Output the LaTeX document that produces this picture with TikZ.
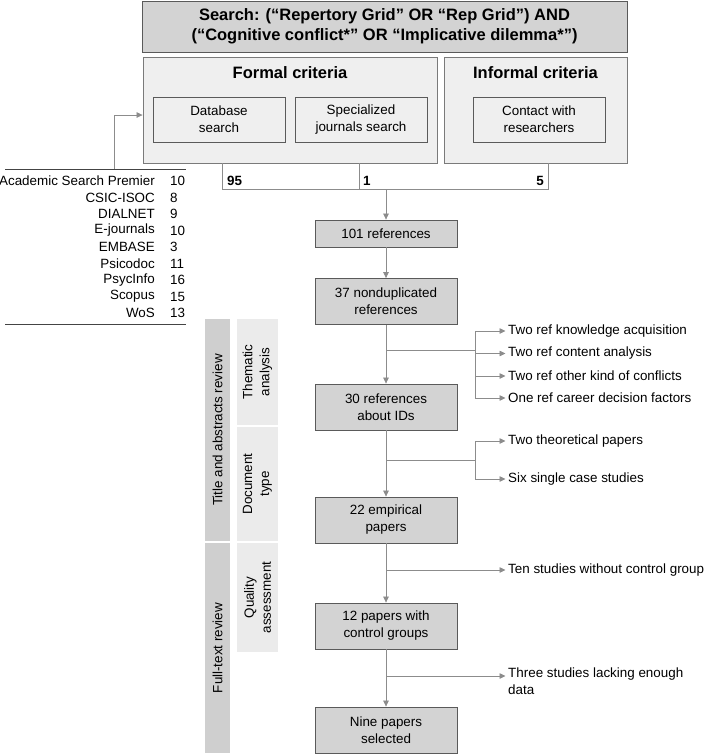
\documentclass[tikz,border=0pt]{standalone}
\usepackage{fontspec}
\setmainfont{Liberation Sans}
\usetikzlibrary{arrows.meta,calc}
\definecolor{boxfill}{HTML}{D3D3D3}
\definecolor{boxline}{HTML}{5A5A5A}
\definecolor{contfill}{HTML}{EFEFEF}
\definecolor{contline}{HTML}{7A7A7A}
\definecolor{bardark}{HTML}{CFCFCF}
\definecolor{barlight}{HTML}{EBEBEB}
\definecolor{conn}{HTML}{8C8C8C}
\definecolor{tabcol}{HTML}{444444}
\begin{document}
\begin{tikzpicture}[x=1pt,y=-1pt,
  txt/.style={font=\fontsize{13.4}{17}\selectfont},
  btxt/.style={font=\fontsize{16.5}{20}\selectfont\bfseries},
  flowbox/.style={draw=boxline,fill=boxfill,line width=0.8pt,minimum width=142pt,minimum height=46pt,align=center,txt,inner sep=0pt},
  contbox/.style={draw=contline,fill=contfill,line width=0.8pt,inner sep=0pt},
  innerbox/.style={draw=boxline,fill=contfill,line width=0.8pt,minimum width=132pt,minimum height=45pt,align=center,txt,inner sep=0pt},
  darkbar/.style={fill=bardark,inner sep=0pt,txt,rotate=90,align=center},
  lightbar/.style={fill=barlight,inner sep=0pt,txt,rotate=90,align=center},
  line/.style={draw=conn,line width=0.75pt},
  arr/.style={line,-{Triangle[length=6pt,width=5.5pt]}},
  extxt/.style={txt,inner sep=2.5pt,align=left},
  tabline/.style={draw=tabcol,line width=0.8pt}
]
\useasboundingbox (0,0) rectangle (704,754);

% top search box
\node[draw=boxline,fill=boxfill,line width=0.8pt,minimum width=485pt,minimum height=51pt,align=center,btxt,inner sep=0pt] (search) at (384.5,26.5)
  {Search: (“Repertory Grid” OR “Rep Grid”) AND\\(“Cognitive conflict*” OR “Implicative dilemma*”)};

% containers
\node[contbox,minimum width=294pt,minimum height=106pt] (formal) at (290,110) {};
\node[contbox,minimum width=183pt,minimum height=106pt] (informal) at (535.5,110) {};
\node[btxt,inner sep=0pt] (formalt) at (290,73) {Formal criteria};
\node[btxt,inner sep=0pt] (informalt) at (535.5,73) {Informal criteria};
\node[innerbox] (db) at (219,119.5) {Database\\search};
\node[innerbox] (spec) at (361,119.5) {Specialized\\journals search};
\node[innerbox] (contact) at (539,119.5) {Contact with\\researchers};

% bracket
\coordinate (b1) at (222,189);
\coordinate (b2) at (359,189);
\coordinate (b3) at (548,189);
\coordinate (bm) at (386,189);
\draw[line] (formal.south -| b1) -- (b1) -- (b3) -- (informal.south -| b3);
\draw[line] (formal.south -| b2) -- (b2);
\node[txt,font=\fontsize{13.4}{17}\selectfont\bfseries,anchor=west,inner sep=0pt] (n95) at (227,181) {95};
\node[txt,font=\fontsize{13.4}{17}\selectfont\bfseries,anchor=west,inner sep=0pt] (n1) at (363,181) {1};
\node[txt,font=\fontsize{13.4}{17}\selectfont\bfseries,anchor=east,inner sep=0pt] (n5) at (544,181) {5};

% flow boxes
\node[flowbox,minimum height=27pt] (r101) at (386,233.5) {101 references};
\node[flowbox] (r37) at (386,301.5) {37 nonduplicated\\references};
\node[flowbox] (r30) at (386,407) {30 references\\about IDs};
\node[flowbox] (r22) at (386,520) {22 empirical\\papers};
\node[flowbox] (r12) at (386,626) {12 papers with\\control groups};
\node[flowbox] (r9) at (386,730) {Nine papers\\selected};

\draw[arr] (bm) -- (r101.north);
\draw[arr] (r101) -- (r37);
\draw[arr] (r37) -- (r30);
\draw[arr] (r30) -- (r22);
\draw[arr] (r22) -- (r12);
\draw[arr] (r12) -- (r9);

% exclusion texts
\node[extxt,anchor=west] (t1) at (505.5,331) {Two ref knowledge acquisition};
\node[extxt,anchor=west] (t2) at (505.5,353.5) {Two ref content analysis};
\node[extxt,anchor=west] (t3) at (505.5,376) {Two ref other kind of conflicts};
\node[extxt,anchor=west] (t4) at (505.5,398) {One ref career decision factors};
\node[extxt,anchor=west] (t5) at (505.5,441) {Two theoretical papers};
\node[extxt,anchor=west] (t6) at (505.5,479) {Six single case studies};
\node[extxt,anchor=west] (t7) at (505.5,570) {Ten studies without control group};
\node[extxt,anchor=north west] (t8) at (505.5,665) {Three studies lacking enough\\data};

\coordinate (j1) at (386,350);
\coordinate (k1) at (475,350);
\draw[line] (j1) -- (k1);
\draw[line] (t1.west -| k1) -- (t4.west -| k1);
\foreach \i in {1,2,3,4} {\draw[arr] (t\i.west -| k1) -- (t\i.west);}

\coordinate (j2) at (386,460);
\coordinate (k2) at (475,460);
\draw[line] (j2) -- (k2);
\draw[line] (t5.west -| k2) -- (t6.west -| k2);
\foreach \i in {5,6} {\draw[arr] (t\i.west -| k2) -- (t\i.west);}

\coordinate (j3) at (386,570);
\draw[arr] (j3) -- (t7.west);
\coordinate (j4) at (386,676);
\draw[arr] (j4) -- (j4 -| t8.west);

% database table
\coordinate (tabA) at (5,169);
\coordinate (tabB) at (186,169);
\coordinate (tabC) at (5,324);
\coordinate (tabD) at (186,324);
\draw[tabline] (tabA) -- (tabB);
\draw[tabline] (tabC) -- (tabD);
\foreach \nm/\num [count=\k from 0] in {Academic Search Premier/10,CSIC-ISOC/8,DIALNET/9,E-journals/10,EMBASE/3,Psicodoc/11,PsycInfo/16,Scopus/15,WoS/13} {
  \node[txt,anchor=east,inner sep=0pt] (dbn\k) at (155,181+16.5*\k) {\nm};
  \node[txt,anchor=west,inner sep=0pt] (dbv\k) at (170,181+16.5*\k) {\num};
}
\coordinate (tl) at (114,169);
\draw[arr] (tl) |- ($(formal.north west)!0.547!(formal.south west)$);

% side bars
\node[darkbar,minimum width=222pt,minimum height=25pt] (bar1) at (217.5,430) {Title and abstracts review};
\node[darkbar,minimum width=210pt,minimum height=25pt] (bar2) at (217.5,648) {Full-text review};
\node[lightbar,minimum width=106pt,minimum height=41pt] (sub1) at (257.5,372) {Thematic\\analysis};
\node[lightbar,minimum width=114pt,minimum height=41pt] (sub2) at (257.5,484) {Document\\type};
\node[lightbar,minimum width=109pt,minimum height=41pt] (sub3) at (257.5,597.5) {Quality\\assessment};
\end{tikzpicture}
\end{document}
